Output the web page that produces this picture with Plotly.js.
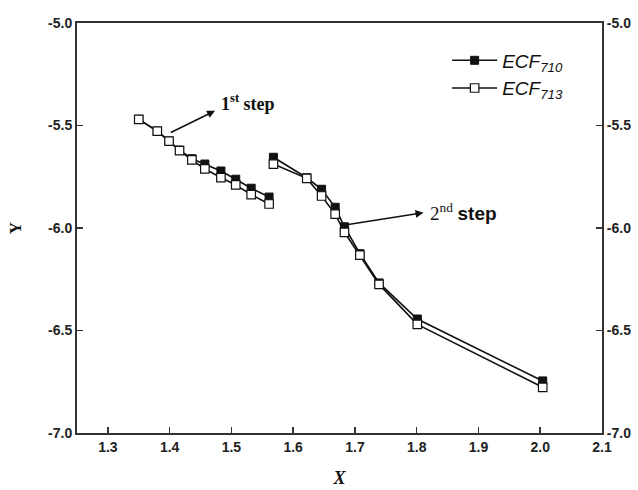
<!DOCTYPE html>
<html>
<head>
<meta charset="utf-8">
<script src="https://cdn.plot.ly/plotly-3.0.1.min.js"></script>
<style>
  html, body { margin: 0; padding: 0; background: #fff; }
  #chart { width: 638px; height: 490px; }
</style>
</head>
<body>
<div id="chart"></div>
<script>
// First step (low X) and second step (high X) of each curve
var stepOneX = [1.350, 1.380, 1.399, 1.416, 1.436, 1.457, 1.483, 1.507, 1.532, 1.561];
var stepTwoX = [1.568, 1.622, 1.646, 1.668, 1.683, 1.708, 1.739, 1.801, 2.004];

var ecf710StepOne = [-5.470, -5.527, -5.576, -5.620, -5.662, -5.688, -5.722, -5.762, -5.806, -5.849];
var ecf710StepTwo = [-5.655, -5.755, -5.811, -5.899, -5.994, -6.125, -6.268, -6.444, -6.746];

var ecf713StepOne = [-5.470, -5.527, -5.576, -5.623, -5.668, -5.712, -5.754, -5.790, -5.837, -5.883];
var ecf713StepTwo = [-5.688, -5.758, -5.844, -5.932, -6.021, -6.132, -6.275, -6.470, -6.777];

var yTicks = [-7.0, -6.5, -6.0, -5.5, -5.0];
var yTickText = ['-7.0', '-6.5', '-6.0', '-5.5', '-5.0'];
var xTicks = [1.3, 1.4, 1.5, 1.6, 1.7, 1.8, 1.9, 2.0, 2.1];
var xTickText = ['1.3', '1.4', '1.5', '1.6', '1.7', '1.8', '1.9', '2.0', '2.1'];

// a null between the steps keeps the two segments apart
var allX = stepOneX.concat([null], stepTwoX);
var ecf710 = ecf710StepOne.concat([null], ecf710StepTwo);
var ecf713 = ecf713StepOne.concat([null], ecf713StepTwo);

var sans = 'Arial, "Liberation Sans", sans-serif';
var serif = '"Times New Roman", "Liberation Serif", serif';

var traces = [
  {
    x: allX, y: ecf710, name: '<i>ECF<sub>710</sub></i>',
    mode: 'lines+markers', connectgaps: false,
    line: { color: '#111', width: 1.6 },
    marker: { symbol: 'square', size: 8, color: '#111', line: { color: '#111', width: 1 } }
  },
  {
    x: allX, y: ecf713, name: '<i>ECF<sub>713</sub></i>',
    mode: 'lines+markers', connectgaps: false,
    line: { color: '#111', width: 1.6 },
    marker: { symbol: 'square', size: 8.5, color: '#fff', line: { color: '#111', width: 1.2 } }
  },
  // carries the right-hand Y axis
  {
    x: [stepOneX[0]], y: [ecf713StepOne[0]], yaxis: 'y2',
    mode: 'markers', marker: { opacity: 0 }, showlegend: false, hoverinfo: 'skip'
  }
];

var tickFont = { family: sans, size: 14, color: '#222', weight: 'bold' };

var layout = {
  width: 638, height: 490,
  margin: { l: 77, r: 36, t: 23, b: 57 },
  paper_bgcolor: '#fff', plot_bgcolor: '#fff',
  showlegend: true,
  legend: {
    x: 0.705, y: 0.955, xanchor: 'left', yanchor: 'top',
    bgcolor: 'rgba(0,0,0,0)', borderwidth: 0,
    font: { family: sans, size: 19, color: '#111' },
    itemwidth: 45, tracegroupgap: 0
  },
  xaxis: {
    range: [1.25, 2.1], showgrid: false, zeroline: false,
    showline: true, linecolor: '#333', linewidth: 2, mirror: true,
    ticks: 'inside', ticklen: 6, tickwidth: 1.5, tickcolor: '#333',
    tickvals: xTicks, ticktext: xTickText, tickfont: tickFont,
    title: { text: '<i><b>X</b></i>', font: { family: serif, size: 18, color: '#111' }, standoff: 18 }
  },
  yaxis: {
    range: [-7, -5], showgrid: false, zeroline: false,
    showline: true, linecolor: '#333', linewidth: 2,
    ticks: 'inside', ticklen: 6, tickwidth: 1.5, tickcolor: '#333',
    tickvals: yTicks, ticktext: yTickText, tickfont: tickFont,
    title: { text: '<b>Y</b>', font: { family: serif, size: 17, color: '#111' }, standoff: 22 }
  },
  yaxis2: {
    overlaying: 'y', side: 'right', range: [-7, -5], matches: 'y',
    showgrid: false, zeroline: false,
    showline: true, linecolor: '#333', linewidth: 2,
    ticks: 'inside', ticklen: 6, tickwidth: 1.5, tickcolor: '#333',
    tickvals: yTicks, ticktext: yTickText, tickfont: tickFont
  },
  annotations: [
    {
      x: 1.4735, y: -5.428, ax: 1.3995, ay: -5.538,
      xref: 'x', yref: 'y', axref: 'x', ayref: 'y',
      text: '', showarrow: true, arrowhead: 2, arrowsize: 1, arrowwidth: 1.6, arrowcolor: '#111'
    },
    {
      x: 1.527, y: -5.39, xref: 'x', yref: 'y', showarrow: false,
      text: '<b>1<sup>st</sup> step</b>',
      font: { family: serif, size: 18, color: '#111' }
    },
    {
      x: 1.811, y: -5.925, ax: 1.684, ay: -5.985,
      xref: 'x', yref: 'y', axref: 'x', ayref: 'y',
      text: '', showarrow: true, arrowhead: 2, arrowsize: 1, arrowwidth: 1.6, arrowcolor: '#111'
    },
    {
      x: 1.875, y: -5.922, xref: 'x', yref: 'y', showarrow: false,
      text: '2<sup>nd</sup> <span style="font-family:Arial, Liberation Sans, sans-serif"><b>step</b></span>',
      font: { family: serif, size: 19, color: '#111' }
    }
  ]
};

Plotly.newPlot('chart', traces, layout, { displayModeBar: false, staticPlot: true });
</script>
</body>
</html>
